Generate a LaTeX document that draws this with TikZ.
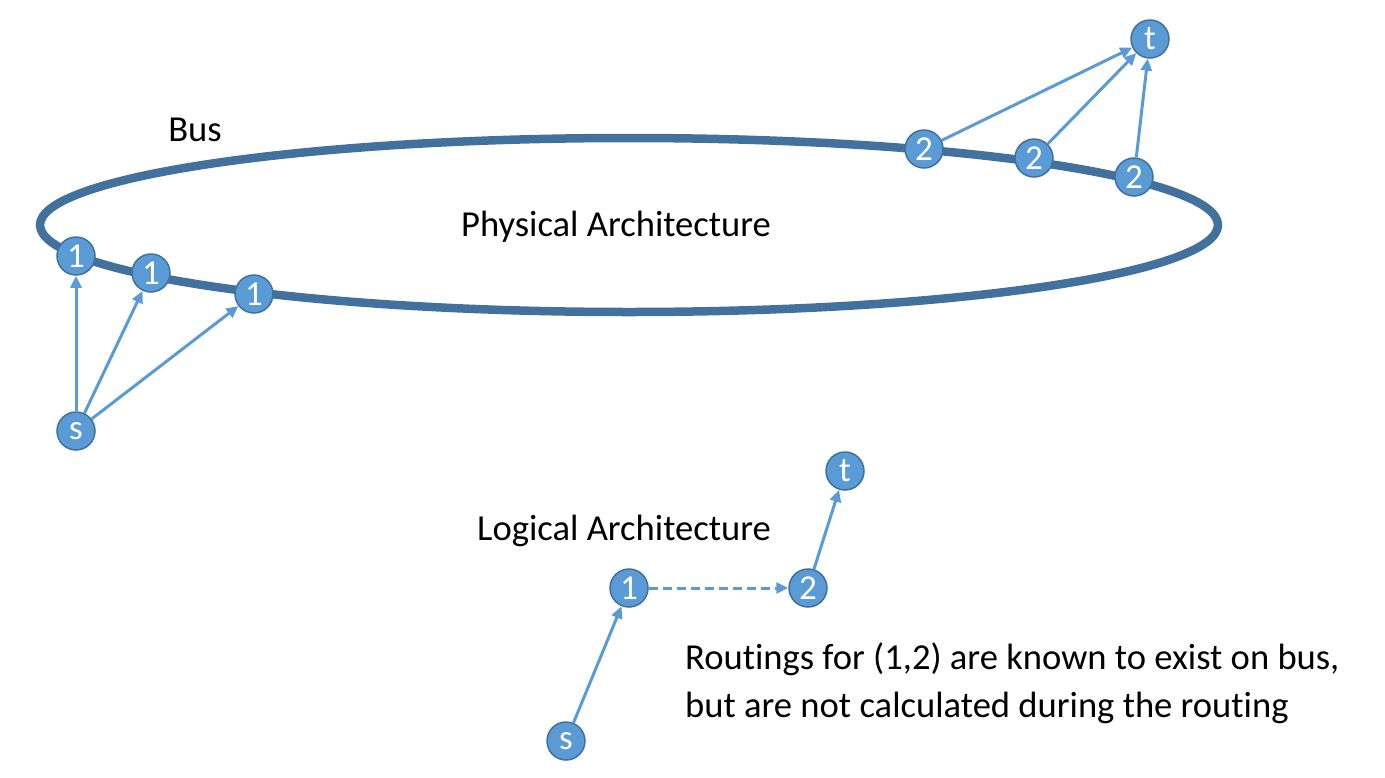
\documentclass[tikz,border=0pt]{standalone}
\usepackage{fontspec}
\setmainfont{Carlito}[Ligatures=NoCommon]
\usepackage{tikz}
\usetikzlibrary{arrows.meta, positioning}
\definecolor{nodeblue}{HTML}{5B9BD5}
\definecolor{busblue}{HTML}{41719C}

\begin{document}
\begin{tikzpicture}[x=1pt, y=-1pt,
    vertex/.style={draw=busblue, fill=nodeblue, circle, line width=1.5pt, minimum size=38pt, inner sep=0pt, text=white, font=\fontsize{35}{35}\selectfont},
    link/.style={draw=nodeblue, line width=3pt, -{Triangle[length=12pt, width=11pt]}},
    label/.style={font=\fontsize{36.6}{48}\selectfont}]

    \useasboundingbox (0,0) rectangle (1385,777);

    % Bus ring
    \draw[busblue, line width=8.5pt] (629,225) ellipse [x radius=589, y radius=87];
    \node (bus) [label] at (195,130) {Bus};
    \node (physical) [label] at (616,227) {Physical Architecture};

    % Nodes on the bus
    \node (sourceP) [vertex] at (76,431) {s};
    \node (oneA) [vertex] at (76,256) {1};
    \node (oneB) [vertex] at (151,273) {1};
    \node (oneC) [vertex] at (254,294) {1};
    \node (twoA) [vertex] at (924,149) {2};
    \node (twoB) [vertex] at (1034,158) {2};
    \node (twoC) [vertex] at (1134,177) {2};
    \node (targetP) [vertex] at (1150,39) {t};

    % Arrows from s and towards t
    \draw[link] (sourceP) -- (oneA);
    \draw[link] (sourceP) -- (oneB);
    \draw[link] (sourceP) -- (oneC);
    \draw[link] (twoA) -- (targetP);
    \draw[link] (twoB) -- (targetP);
    \draw[link] (twoC) -- (targetP);

    % Logical architecture
    \node (logical) [label] at (624,531) {Logical Architecture};
    \node (sourceL) [vertex] at (566,741) {s};
    \node (oneL) [vertex] at (629,588) {1};
    \node (twoL) [vertex] at (808,588) {2};
    \node (targetL) [vertex] at (845,471) {t};

    \draw[link] (sourceL) -- (oneL);
    \draw[link, dashed, dash pattern=on 9pt off 5pt] (oneL) -- (twoL);
    \draw[link] (twoL) -- (targetL);

    \node (note) [label, anchor=north west, align=left, inner sep=0pt] at (685,643) {Routings for (1,2) are known to exist on bus,\\but are not calculated during the routing};

\end{tikzpicture}
\end{document}
